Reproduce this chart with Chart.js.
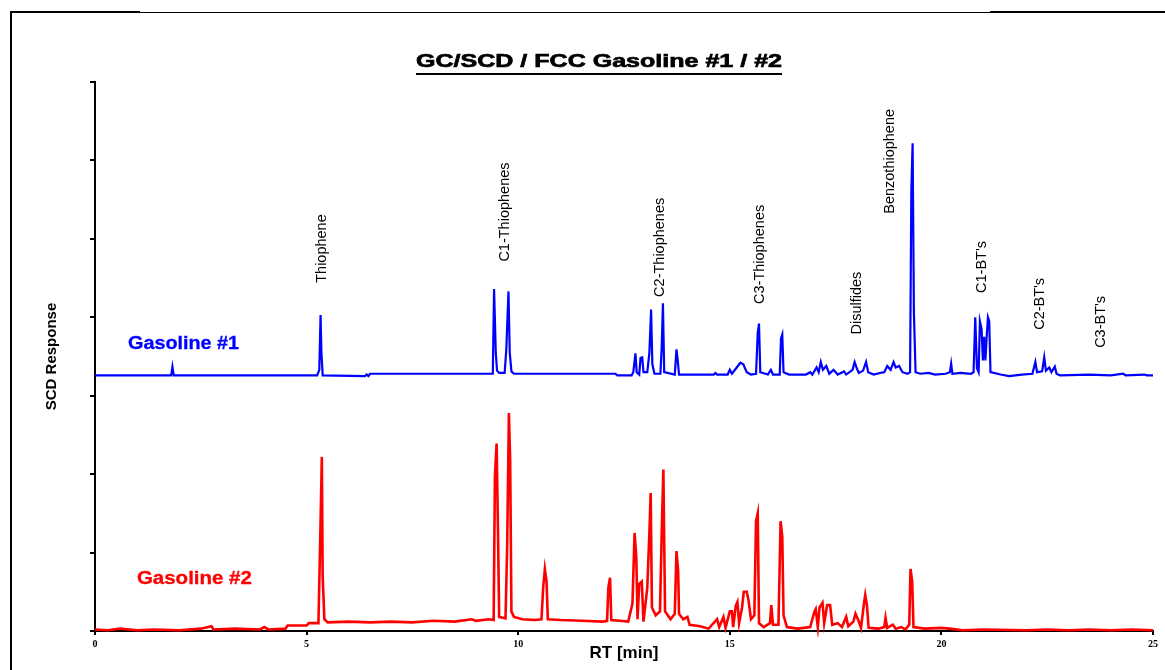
<!DOCTYPE html>
<html>
<head>
<meta charset="utf-8">
<script src="https://cdn.jsdelivr.net/npm/chart.js@4.4.1/dist/chart.umd.min.js"></script>
<style>
  html, body { margin:0; padding:0; background:#fff; }
  #wrap { position:relative; width:1165px; height:670px; }
</style>
</head>
<body>
<div id="wrap"><canvas id="gc" width="1165" height="670"></canvas></div>
<script>
// ===================================================
// DATA  (retention time [min], SCD response [a.u.])
// ===================================================
const gasoline1 = [
  [0,3.26],[1.80,3.26],[1.83,3.37],[1.86,3.26],[5.25,3.26],[5.30,3.33],[5.33,4.03],[5.35,3.55],[5.38,3.26],
  [6.38,3.25],[6.42,3.27],[6.46,3.25],[6.50,3.28],[9.40,3.28],[9.43,4.36],[9.47,3.55],[9.50,3.32],[9.55,3.29],
  [9.68,3.29],[9.72,3.60],[9.77,4.33],[9.80,3.55],[9.84,3.31],[9.90,3.28],[12.30,3.28],[12.34,3.26],[12.68,3.26],
  [12.72,3.30],[12.77,3.54],[12.80,3.30],[12.86,3.27],[12.89,3.48],[12.93,3.49],[12.96,3.30],[13.05,3.30],
  [13.10,3.55],[13.14,4.10],[13.17,3.40],[13.22,3.28],[13.36,3.28],[13.39,3.60],[13.42,4.18],[13.45,3.30],
  [13.70,3.27],[13.74,3.59],[13.77,3.45],[13.80,3.27],[14.62,3.27],[14.66,3.29],[14.70,3.27],[14.95,3.27],
  [15.00,3.33],[15.05,3.28],[15.15,3.35],[15.25,3.42],[15.32,3.40],[15.40,3.30],[15.50,3.27],[15.62,3.28],
  [15.66,3.80],[15.69,3.92],[15.72,3.30],[15.90,3.27],[15.97,3.33],[16.02,3.27],[16.18,3.27],[16.21,3.73],
  [16.24,3.78],[16.27,3.30],[16.40,3.27],[16.80,3.27],[16.90,3.30],[16.95,3.27],[17.05,3.36],[17.10,3.30],
  [17.15,3.43],[17.20,3.33],[17.28,3.38],[17.35,3.28],[17.45,3.33],[17.55,3.27],[17.70,3.31],[17.75,3.27],
  [17.90,3.33],[17.95,3.43],[18.00,3.35],[18.05,3.29],[18.15,3.32],[18.22,3.43],[18.27,3.30],[18.40,3.27],
  [18.55,3.29],[18.65,3.30],[18.72,3.38],[18.80,3.33],[18.87,3.43],[18.92,3.36],[19.00,3.38],[19.08,3.30],
  [19.20,3.28],[19.26,3.30],[19.29,5.62],[19.32,6.22],[19.35,4.06],[19.39,3.30],[19.50,3.28],[19.70,3.29],
  [19.85,3.27],[20.10,3.28],[20.20,3.30],[20.23,3.41],[20.26,3.28],[20.45,3.29],[20.70,3.28],[20.76,3.30],
  [20.80,4.00],[20.84,3.35],[20.88,3.30],[20.91,3.95],[20.95,3.85],[20.98,3.45],[21.01,3.75],[21.04,3.45],
  [21.07,3.75],[21.10,4.00],[21.13,3.95],[21.16,3.30],[21.40,3.27],[21.60,3.25],[21.90,3.27],[22.15,3.28],
  [22.22,3.43],[22.26,3.30],[22.38,3.31],[22.43,3.49],[22.47,3.32],[22.55,3.36],[22.60,3.30],[22.68,3.37],
  [22.72,3.28],[22.80,3.26],[23.50,3.27],[24.00,3.26],[24.30,3.28],[24.35,3.26],[24.80,3.27],[24.85,3.26],[25.00,3.26]
];

const gasoline2 = [
  [0,0.02],[0.3,0.01],[0.6,0.03],[1.0,0.01],[1.4,0.02],[2.0,0.01],[2.5,0.03],[2.75,0.06],[2.8,0.02],[3.3,0.03],
  [3.9,0.02],[4.0,0.05],[4.1,0.02],[4.5,0.03],[4.55,0.07],[5.0,0.07],[5.05,0.10],[5.28,0.10],[5.33,1.38],[5.36,2.22],
  [5.38,0.69],[5.42,0.15],[5.5,0.11],[6.0,0.12],[6.5,0.11],[7.0,0.12],[7.5,0.11],[8.0,0.13],[8.5,0.12],[8.9,0.15],
  [9.0,0.13],[9.3,0.15],[9.42,0.14],[9.45,1.97],[9.49,2.39],[9.52,1.35],[9.55,0.18],[9.70,0.16],[9.74,1.10],
  [9.78,2.78],[9.81,2.18],[9.84,0.25],[9.9,0.18],[10.1,0.15],[10.4,0.14],[10.55,0.15],[10.59,0.55],[10.63,0.79],
  [10.67,0.63],[10.70,0.15],[11.0,0.14],[11.5,0.13],[12.0,0.12],[12.1,0.13],[12.13,0.55],[12.17,0.68],[12.20,0.14],
  [12.4,0.13],[12.6,0.12],[12.70,0.35],[12.75,1.25],[12.79,0.95],[12.82,0.15],[12.86,0.60],[12.92,0.63],[12.96,0.12],
  [13.05,0.55],[13.10,1.25],[13.13,1.76],[13.16,0.30],[13.25,0.20],[13.35,0.25],[13.39,1.22],[13.43,2.06],[13.47,0.25],
  [13.60,0.15],[13.70,0.22],[13.74,1.02],[13.78,0.76],[13.80,0.22],[13.90,0.15],[14.0,0.18],[14.05,0.08],[14.3,0.06],
  [14.5,0.03],[14.7,0.15],[14.75,0.05],[14.85,0.18],[14.9,0.04],[15.0,0.25],[15.05,0.25],[15.08,0.05],[15.14,0.32],
  [15.18,0.37],[15.22,0.10],[15.29,0.30],[15.33,0.50],[15.40,0.50],[15.44,0.40],[15.50,0.15],[15.58,0.20],[15.62,1.40],
  [15.66,1.50],[15.69,0.10],[15.80,0.05],[15.95,0.10],[15.98,0.33],[16.02,0.08],[16.15,0.08],[16.20,1.40],[16.24,1.20],
  [16.27,0.20],[16.35,0.05],[16.6,0.03],[16.9,0.05],[17.0,0.25],[17.03,0.28],[17.08,0.05],[17.12,0.30],[17.19,0.36],
  [17.23,0.10],[17.30,0.33],[17.37,0.33],[17.42,0.08],[17.55,0.10],[17.65,0.05],[17.75,0.18],[17.80,0.06],[17.92,0.12],
  [17.97,0.22],[18.05,0.12],[18.10,0.04],[18.17,0.35],[18.20,0.46],[18.24,0.33],[18.28,0.04],[18.5,0.03],[18.65,0.05],
  [18.68,0.17],[18.72,0.04],[18.85,0.08],[18.92,0.03],[19.05,0.05],[19.15,0.02],[19.24,0.08],[19.27,0.79],[19.31,0.63],
  [19.34,0.05],[19.6,0.03],[20.0,0.04],[20.2,0.03],[20.5,0.01],[21.0,0.02],[22.0,0.01],[22.5,0.02],[23.0,0.01],
  [23.5,0.02],[24.0,0.01],[24.5,0.02],[25.0,0.01]
];

// compound group labels: name, RT anchor, response at label foot
const peakNames = ['Thiophene','C1-Thiophenes','C2-Thiophenes','C3-Thiophenes','Disulfides','Benzothiophene',"C1-BT's","C2-BT's","C3-BT's"];
const peakRT    = [5.37, 9.69, 13.36, 15.72, 18.01, 18.79, 20.95, 22.34, 23.76];
const peakFoot  = [4.44, 4.71, 4.26, 4.17, 3.78, 5.32, 4.31, 3.84, 3.61];

const seriesNames = ['Gasoline #1', 'Gasoline #2'];
const seriesTagRT = [0.78, 0.99];
const seriesTagY  = [3.60, 0.60];

const X_TICKS = [0, 5, 10, 15, 20, 25];
const Y_MAX = 7;

const COLORS = ['#0000ff', '#ff0000'];
const SANS = '"Liberation Sans", Arial, sans-serif';
const SERIF = '"Liberation Serif", "Times New Roman", serif';

// ===================================================
// TEXT + FRAME OVERLAY
// ===================================================
function stretchText(ctx, text, x, y, targetW, align, heavy) {
  const w = ctx.measureText(text).width;
  const k = targetW / w;
  ctx.save();
  ctx.translate(x, y);
  ctx.scale(k, 1);
  ctx.textAlign = align;
  ctx.fillText(text, 0, 0);
  if (heavy) {
    ctx.strokeStyle = ctx.fillStyle;
    ctx.lineWidth = heavy;
    ctx.strokeText(text, 0, 0);
  }
  ctx.restore();
}

const overlay = {
  id: 'overlay',
  afterDraw(chart) {
    const ctx = chart.ctx;
    const xs = chart.scales.x, ys = chart.scales.y;
    ctx.save();

    // outer frame
    ctx.fillStyle = '#000';
    ctx.fillRect(10, 12, 2, 658);
    ctx.fillRect(10, 11, 130, 2);
    ctx.fillRect(990, 11, 175, 2);
    ctx.fillRect(140, 12, 850, 1);

    // title
    ctx.font = 'bold 19px ' + SANS;
    ctx.textBaseline = 'alphabetic';
    stretchText(ctx, 'GC/SCD / FCC Gasoline #1 / #2', 599, 67, 366, 'center', 0.7);
    ctx.fillRect(416, 73, 366, 2);

    // group labels
    ctx.font = '14.5px ' + SANS;
    ctx.textBaseline = 'middle';
    ctx.textAlign = 'left';
    peakNames.forEach((n, i) => {
      const px = xs.getPixelForValue(peakRT[i]);
      const py = ys.getPixelForValue(peakFoot[i]);
      ctx.save();
      ctx.translate(px, py);
      ctx.rotate(-Math.PI / 2);
      ctx.fillText(n, 0, 0);
      ctx.restore();
    });

    // series tags
    ctx.font = 'bold 17.5px ' + SANS;
    ctx.textBaseline = 'alphabetic';
    seriesNames.forEach((n, i) => {
      ctx.fillStyle = COLORS[i];
      stretchText(ctx, n, xs.getPixelForValue(seriesTagRT[i]), ys.getPixelForValue(seriesTagY[i]), i === 0 ? 111 : 115, 'left', 0.3);
    });
    ctx.restore();
  }
};

// ===================================================
// CHART
// ===================================================
const toXY = arr => arr.map(([x, y]) => ({x, y}));

new Chart(document.getElementById('gc'), {
  type: 'line',
  data: {
    datasets: [
      {label: seriesNames[0], data: toXY(gasoline1), borderColor: COLORS[0], borderWidth: 2.2, pointRadius: 0, tension: 0, clip: 6},
      {label: seriesNames[1], data: toXY(gasoline2), borderColor: COLORS[1], borderWidth: 2.6, pointRadius: 0, tension: 0, clip: 6},
    ]
  },
  options: {
    responsive: false,
    animation: false,
    events: [],
    layout: {padding: {left: 39, top: 82, right: 12, bottom: 2}},
    plugins: {legend: {display: false}, tooltip: {enabled: false}},
    scales: {
      x: {
        type: 'linear', min: 0, max: 25,
        afterBuildTicks: s => { s.ticks = X_TICKS.map(v => ({value: v})); },
        ticks: {color: '#000', padding: 3, maxRotation: 0, font: {family: SERIF, weight: 'bold', size: 10}},
        grid: {drawOnChartArea: false, color: '#000', lineWidth: 2, tickLength: 4},
        border: {color: '#000', width: 2},
        title: {display: true, text: 'RT [min]', color: '#000', font: {family: SANS, weight: 'bold', size: 17}},
        afterFit: s => { s.height = 37; }
      },
      y: {
        min: 0, max: Y_MAX,
        ticks: {stepSize: 1, display: false},
        grid: {drawOnChartArea: false, color: '#000', lineWidth: 2, tickLength: 5},
        border: {color: '#000', width: 2},
        title: {display: true, text: 'SCD Response', color: '#000', font: {family: SANS, weight: 'bold', size: 15}},
        afterFit: s => { s.width = 56; }
      }
    }
  },
  plugins: [overlay]
});
</script>
</body>
</html>
